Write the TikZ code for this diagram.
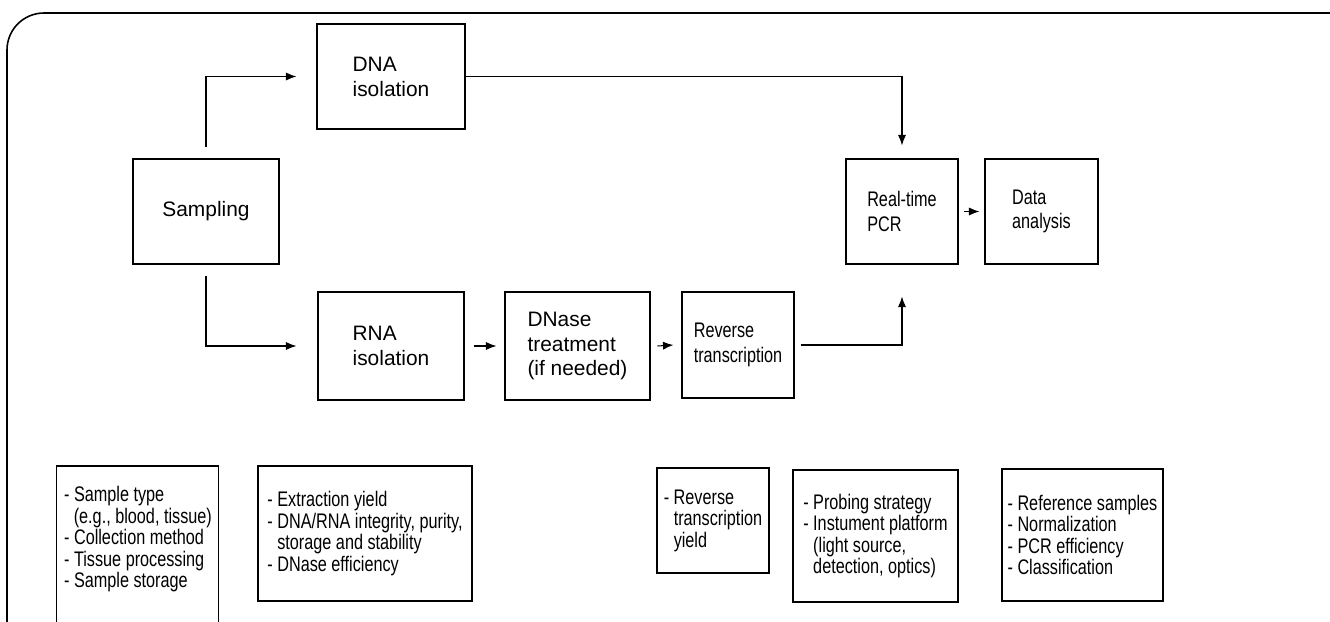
\documentclass[tikz,border=0pt]{standalone}
\usepackage{fontspec}
\setmainfont{Liberation Sans}
\newfontfamily\narrowsf{Liberation Sans}[FakeStretch=0.77]
\usepackage{tikz}
\usetikzlibrary{arrows.meta,positioning,calc}

\tikzset{
	flowbox/.style={draw,line width=0.6pt,align=left,inner sep=0pt,font=\fontsize{11.9}{14.2}\selectfont},
	narrowbox/.style={flowbox,font=\narrowsf\fontsize{12}{13.8}\selectfont},
	factbox/.style={draw,line width=0.6pt,align=left,inner sep=0pt,font=\narrowsf\fontsize{12}{12.2}\selectfont},
	flowarrow/.style={line width=0.6pt,-{Latex[length=6pt,width=4.6pt]}}
}

\begin{document}
\begin{tikzpicture}[x=0.02cm,y=-0.02cm]
	\useasboundingbox (0,0) rectangle (1330,622);
	\draw[line width=0.9pt,rounded corners=0.74cm] (7,640) -- (7,13) -- (1340,13);
	% main flow
	\node[flowbox,align=center,minimum width=2.92cm,minimum height=2.1cm] (samp) at (206,211.5) {Sampling};
	\node[flowbox,minimum width=2.96cm,minimum height=2.1cm] (dna) at (391,76.5) {DNA\\isolation};
	\node[flowbox,minimum width=2.92cm,minimum height=2.16cm] (rna) at (391,346) {RNA\\isolation};
	\node[flowbox,minimum width=2.9cm,minimum height=2.16cm] (dnase) at (577.5,346) {DNase\\treatment\\(if needed)};
	\node[narrowbox,minimum width=2.24cm,minimum height=2.12cm] (rt) at (738,345) {Reverse\\transcription};
	\node[narrowbox,minimum width=2.24cm,minimum height=2.1cm] (pcr) at (902,211.5) {Real-time\\PCR};
	\node[narrowbox,minimum width=2.26cm,minimum height=2.1cm] (data) at (1041.5,211.5) {Data\\analysis};
	\draw[flowarrow] ([yshift=0.22cm]samp.north) |- ([xshift=-0.4cm]dna.west);
	\draw[flowarrow] ([yshift=-0.22cm]samp.south) |- ([xshift=-0.42cm]rna.west);
	\draw[flowarrow] ([xshift=0.18cm]rna.east) -- ([xshift=-0.16cm]dnase.west);
	\draw[flowarrow] ([xshift=0.14cm]dnase.east) -- ([xshift=-0.16cm]rt.west);
	\draw[flowarrow] ([xshift=0.12cm]rt.east) -| ([yshift=-0.64cm]pcr.south);
	\draw[flowarrow] (dna.east) -| ([yshift=0.26cm]pcr.north);
	\draw[flowarrow] ([xshift=0.1cm]pcr.east) -- ([xshift=-0.1cm]data.west);
	% factors below
	\node[factbox,draw=none,minimum width=3.24cm,inner ysep=0.4cm,anchor=north] (samplefacts) at (138,466) {- Sample type\\\hspace*{5.5pt}(e.g., blood, tissue)\\- Collection method\\- Tissue processing\\- Sample storage};
	\draw[line width=0.6pt] (samplefacts.north west) rectangle ++(162,180);
	\node[factbox,minimum width=4.28cm,minimum height=2.7cm] (isofacts) at (365,533.5) {- Extraction yield\\- DNA/RNA integrity, purity,\\\hphantom{- }storage and stability\\- DNase efficiency};
	\node[factbox,minimum width=2.24cm,minimum height=2.1cm] (rtfacts) at (713,520.5) {- Reverse\\\hphantom{- }transcription\\\hphantom{- }yield};
	\node[factbox,minimum width=3.3cm,minimum height=2.64cm] (pcrfacts) at (875.5,536) {- Probing strategy\\- Instument platform\\\hphantom{- }(light source,\\\hphantom{- }detection, optics)};
	\node[factbox,minimum width=3.22cm,minimum height=2.64cm] (datafacts) at (1082.5,535) {- Reference samples\\- Normalization\\- PCR efficiency\\- Classification};
\end{tikzpicture}
\end{document}
